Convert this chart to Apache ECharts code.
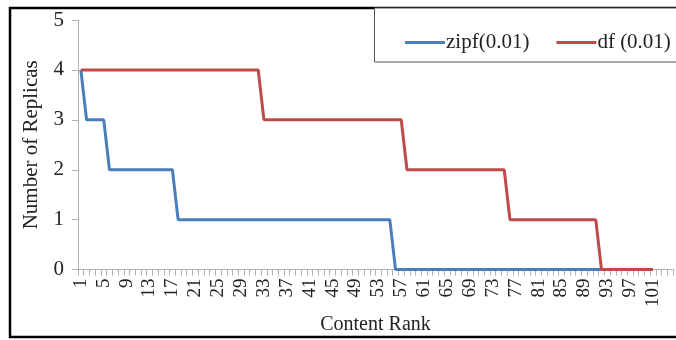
<!DOCTYPE html>
<html>
<head>
<meta charset="utf-8">
<script src="https://cdn.jsdelivr.net/npm/echarts@6/dist/echarts.min.js"></script>
<style>
  html, body { margin: 0; padding: 0; background: #fff; }
  #main { width: 676px; height: 340px; }
</style>
</head>
<body>
<div id="main"></div>
<script>
// content rank 1..104 on the axis, data only up to 101
var ranks = [];
for (var r = 1; r <= 104; r++) ranks.push(String(r));

var seriesNames = ['zipf(0.01)', 'df (0.01)'];

// replicas per rank
var zipfVals = [
  4, 3, 3, 3, 3, 2, 2, 2, 2, 2,
  2, 2, 2, 2, 2, 2, 2, 1, 1, 1,
  1, 1, 1, 1, 1, 1, 1, 1, 1, 1,
  1, 1, 1, 1, 1, 1, 1, 1, 1, 1,
  1, 1, 1, 1, 1, 1, 1, 1, 1, 1,
  1, 1, 1, 1, 1, 0, 0, 0, 0, 0,
  0, 0, 0, 0, 0, 0, 0, 0, 0, 0,
  0, 0, 0, 0, 0, 0, 0, 0, 0, 0,
  0, 0, 0, 0, 0, 0, 0, 0, 0, 0,
  0, 0, 0, 0, 0, 0, 0, 0, 0, 0,
  0
];
var dfVals = [
  4, 4, 4, 4, 4, 4, 4, 4, 4, 4,
  4, 4, 4, 4, 4, 4, 4, 4, 4, 4,
  4, 4, 4, 4, 4, 4, 4, 4, 4, 4,
  4, 4, 3, 3, 3, 3, 3, 3, 3, 3,
  3, 3, 3, 3, 3, 3, 3, 3, 3, 3,
  3, 3, 3, 3, 3, 3, 3, 2, 2, 2,
  2, 2, 2, 2, 2, 2, 2, 2, 2, 2,
  2, 2, 2, 2, 2, 1, 1, 1, 1, 1,
  1, 1, 1, 1, 1, 1, 1, 1, 1, 1,
  1, 0, 0, 0, 0, 0, 0, 0, 0, 0,
  0
];

var colors = ['#4a7ebb', '#be4b48'];
var font = 'Liberation Serif';

var chart = echarts.init(document.getElementById('main'), null, { renderer: 'canvas' });

var option = {
  animation: false,
  backgroundColor: '#fff',
  textStyle: { fontFamily: font, color: '#222' },
  graphic: [
    {
      type: 'rect', z: -1,
      shape: { x: 10, y: 8, width: 680, height: 329 },
      style: { fill: 'none', stroke: '#000', lineWidth: 2.5 }
    },
    {
      type: 'rect', z: 0,
      shape: { x: 374.5, y: 8, width: 320, height: 54 },
      style: { fill: '#fff', stroke: '#555', lineWidth: 1 }
    }
  ],
  legend: {
    data: seriesNames,
    left: 400,
    top: 27,
    itemGap: 27,
    itemWidth: 40,
    itemHeight: 3,
    icon: 'rect',
    z: 5,
    textStyle: { fontFamily: font, fontSize: 21, color: '#222', padding: [0, 0, 0, -4] }
  },
  grid: {
    left: 78, right: 3, top: 20, bottom: 70,
    containLabel: false
  },
  xAxis: {
    type: 'category',
    data: ranks,
    boundaryGap: true,
    name: 'Content Rank',
    nameLocation: 'middle',
    nameGap: 43,
    nameTextStyle: { fontFamily: font, fontSize: 20, color: '#222' },
    axisLine: { lineStyle: { color: '#b3b3b3', width: 1 } },
    axisTick: { show: true, interval: 0, length: 6, lineStyle: { color: '#b3b3b3' } },
    axisLabel: {
      interval: 3,
      rotate: 90,
      margin: 9,
      fontFamily: font,
      fontSize: 19,
      color: '#222'
    },
    splitLine: { show: false }
  },
  yAxis: {
    type: 'value',
    min: 0,
    max: 5,
    interval: 1,
    name: 'Number of Replicas',
    nameLocation: 'middle',
    nameGap: 36,
    nameRotate: 90,
    nameTextStyle: { fontFamily: font, fontSize: 21, color: '#222' },
    axisLine: { show: true, lineStyle: { color: '#b3b3b3', width: 1 } },
    axisTick: { show: true, length: 6, lineStyle: { color: '#b3b3b3' } },
    axisLabel: { margin: 14, fontFamily: font, fontSize: 21, color: '#222' },
    splitLine: { show: false }
  },
  series: [
    {
      name: seriesNames[0],
      type: 'line',
      data: zipfVals,
      showSymbol: false,
      symbol: 'none',
      color: colors[0],
      lineStyle: { width: 3, color: colors[0] },
      z: 2
    },
    {
      name: seriesNames[1],
      type: 'line',
      data: dfVals,
      showSymbol: false,
      symbol: 'none',
      color: colors[1],
      lineStyle: { width: 3, color: colors[1] },
      z: 3
    }
  ]
};

chart.setOption(option);
</script>
</body>
</html>
